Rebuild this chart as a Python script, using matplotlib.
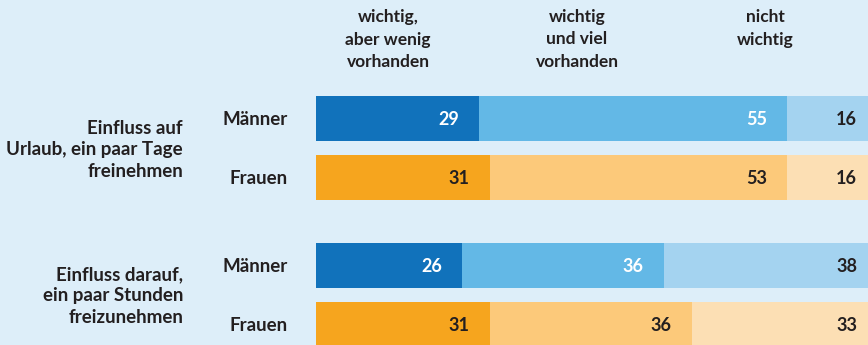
import matplotlib
matplotlib.use("Agg")
import matplotlib.pyplot as plt

# Survey shares (percent) per answer category
categories = ["wichtig,\naber wenig\nvorhanden", "wichtig\nund viel\nvorhanden", "nicht\nwichtig"]
groups = ["Einfluss auf\nUrlaub, ein paar Tage\nfreinehmen",
          "Einfluss darauf,\nein paar Stunden\nfreizunehmen"]
row_labels = ["Männer", "Frauen", "Männer", "Frauen"]
wenig = [29, 31, 26, 31]
viel = [55, 53, 36, 36]
nicht = [16, 16, 38, 33]

BG = "#ddeef9"
TXT = "#231f20"
blue = ["#1172bb", "#63b8e6", "#a4d3f0"]
orange = ["#f6a51e", "#fcc97a", "#fcdfb4"]
row_colors = [blue, orange, blue, orange]
value_colors = [["white", "white", TXT], [TXT, TXT, TXT],
                ["white", "white", TXT], [TXT, TXT, TXT]]

FONT = "Lato"
W, H = 868, 345
fig = plt.figure(figsize=(W / 100, H / 100), dpi=100)
fig.patch.set_facecolor(BG)

x0, bar_w = 316, 561
ax = fig.add_axes([x0 / W, 0, bar_w / W, 1])
ax.set_facecolor(BG)
ax.set_xlim(0, 100)
ax.set_ylim(H, 0)
ax.axis("off")

ypos = [118.5, 177.5, 265.5, 324.5]
bar_h = 45
px = 100 / bar_w  # one pixel in data units

for i, y in enumerate(ypos):
    vals = [wenig[i], viel[i], nicht[i]]
    left = 0
    for j, v in enumerate(vals):
        ax.barh(y, v, left=left, height=bar_h, color=row_colors[i][j],
                edgecolor="none", clip_on=False)
        ax.text(left + v - 20 * px, y + 1, f"{v}", ha="right", va="center",
                fontsize=13, fontweight="bold", family=FONT,
                color=value_colors[i][j], clip_on=False)
        left += v
    ax.text(-28 * px, y + 1, row_labels[i], ha="right", va="center",
            fontsize=13.5, fontweight="bold", family=FONT, color=TXT,
            clip_on=False)

group_y = [(ypos[0] + ypos[1]) / 2 + 2, (ypos[2] + ypos[3]) / 2 + 1]
for g, gy in zip(groups, group_y):
    ax.text(-133 * px, gy, g, ha="right", va="center", fontsize=13.5,
            fontweight="bold", family=FONT, color=TXT, linespacing=1.3,
            multialignment="right", clip_on=False)

header_x = [388, 577, 765]
for c, hx in zip(categories, header_x):
    ax.text((hx - x0) * px, 9, c, ha="center", va="top", fontsize=12.5,
            fontweight="bold", family=FONT, color=TXT, linespacing=1.5,
            clip_on=False)

fig.savefig("out.png", dpi=100, facecolor=BG)
